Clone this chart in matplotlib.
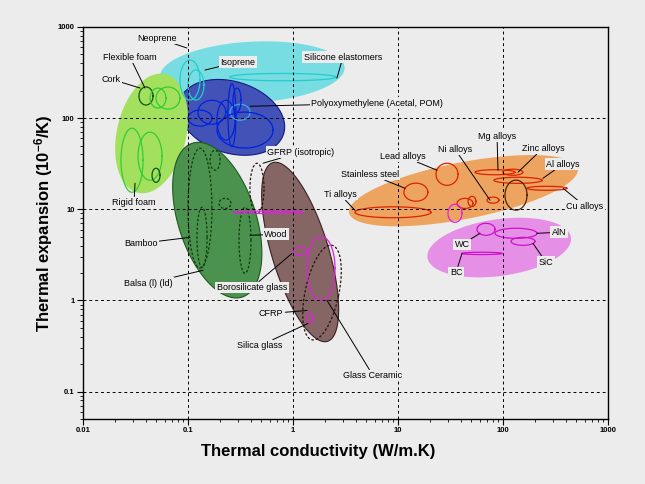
import numpy as np
import matplotlib
matplotlib.use("Agg")
import matplotlib.pyplot as plt

plt.rcParams['font.family'] = ['Liberation Sans', 'DejaVu Sans']
plt.rcParams['mathtext.default'] = 'regular'

# ---- material family envelopes: centre (k W/m.K, alpha 1e-6/K), semi axes (decades), tilt ----
env_names = ['Elastomers', 'Polymers', 'Foams', 'Natural', 'Composites/glass', 'Metals', 'Ceramics']
env_k = [0.41, 0.26, 0.045, 0.19, 1.17, 42, 92]
env_alpha = [320, 102, 68, 7.6, 3.4, 16, 3.8]
env_a = [0.88, 0.52, 0.58, 0.77, 0.89, 1.11, 0.69]
env_b = [0.29, 0.34, 0.33, 0.37, 0.27, 0.27, 0.27]
env_angle = [3, -18, 77, 108, 107, 11, 8]
env_fill = ['#78dde3', '#4352b6', '#a2e05e', '#4a924d', '#866565', '#eda461', '#e68fe6']
env_edge = ['none', '#101a80', 'none', '#1f5a22', '#3a2222', 'none', 'none']

# ---- individual materials (outlines inside the envelopes) ----
mat_k = [0.1045, 0.119, 0.80,
         0.0398, 0.0518, 0.0645, 0.0293, 0.0435, 0.0496,
         0.262, 0.230, 0.169, 0.313, 0.130, 0.349, 0.293,
         0.130, 0.136, 0.349, 0.181, 0.225,
         0.454, 1.89, 1.85, 1.17, 1.45, 0.578,
         8.96, 14.8, 29.3, 43.5, 50.7, 80.3, 83.9, 124, 139, 262, 133, 34.9,
         68.9, 133, 155, 63]
mat_alpha = [262, 231, 282,
             175, 166, 166, 34.5, 38.2, 23.6,
             108, 95, 116, 116, 100, 74, 158,
             10.3, 4.92, 4.56, 34.5, 11.6,
             17, 1.22, 2.25, 3.45, 0.634, 9.27,
             9.27, 15.4, 24.2, 11.6, 12.2, 12.6, 25.5, 25.5, 20.8, 17, 14.3, 9.04,
             6.03, 5.45, 4.45, 3.28]
mat_rx = [0.095, 0.076, 0.505,
          0.067, 0.076, 0.114, 0.105, 0.114, 0.038,
          0.038, 0.086, 0.133, 0.095, 0.114, 0.267, 0.038,
          0.114, 0.048, 0.057, 0.048, 0.057,
          0.067, 0.16, 0.133, 0.067, 0.029, 0.333,
          0.362, 0.114, 0.105, 0.076, 0.038, 0.057, 0.19, 0.095, 0.229, 0.19, 0.105, 0.067,
          0.086, 0.20, 0.114, 0.19]
mat_ry = [0.19, 0.143, 0.035,
          0.086, 0.095, 0.105, 0.305, 0.229, 0.067,
          0.30, 0.19, 0.114, 0.076, 0.076, 0.171, 0.114,
          0.571, 0.286, 0.314, 0.095, 0.048,
          0.238, 0.46, 0.305, 0.038, 0.048, 0.012,
          0.052, 0.086, 0.105, 0.048, 0.048, 0.029, 0.024, 0.029, 0.029, 0.019, 0.143, 0.086,
          0.057, 0.048, 0.038, 0.011]
mat_angle = [0, 0, 0,
             0, 0, 0, 0, 0, 0,
             0, 0, 0, 0, 0, 0, 0,
             0, 0, 0, 0, 0,
             0, -12, 0, 0, 0, 0,
             0, 0, 0, 0, 0, 0, 0, 0, 0, 0, 0, 0,
             0, 0, 0, 0]
mat_color = ['#22cccc', '#22cccc', '#22cccc',
             '#115511', '#33cc33', '#33cc33', '#33cc33', '#33cc33', '#115511',
             '#0022dd', '#0022dd', '#0022dd', '#33aaee', '#0022dd', '#0022dd', '#0022dd',
             '#0d3d0d', '#0d3d0d', '#0d3d0d', '#0d3d0d', '#0d3d0d',
             '#2a1010', '#2a1010', '#dd22dd', '#dd22dd', '#dd22dd', '#dd22dd',
             '#dd2200', '#dd2200', '#dd2200', '#dd2200', '#dd2200', '#dd2200', '#dd2200', '#dd2200',
             '#dd2200', '#dd2200', '#552200', '#dd22dd',
             '#cc11cc', '#cc11cc', '#cc11cc', '#cc11cc']
mat_dashed = [False] * 16 + [True] * 5 + [True, True, False, False, False, False] + [False] * 16

# ---- labels: text position and leader target (k, alpha) ----
lbl_text = ['Neoprene', 'Flexible foam', 'Cork', 'Isoprene', 'Silicone elastomers',
            'Polyoxymethylene (Acetal, POM)', 'GFRP (isotropic)', 'Rigid foam', 'Bamboo',
            'Balsa (l) (ld)', 'Wood', 'Borosilicate glass', 'CFRP', 'Silica glass',
            'Glass Ceramic', 'Lead alloys', 'Ni alloys', 'Mg alloys', 'Zinc alloys',
            'Al alloys', 'Stainless steel', 'Ti alloys', 'Cu alloys', 'AlN', 'WC', 'SiC', 'BC']
lbl_k = [0.0507, 0.0280, 0.0185, 0.299, 2.99, 6.31, 1.19, 0.0306, 0.0357,
         0.0416, 0.689, 0.407, 0.617, 0.485, 5.78, 11.2, 34.9, 87.7, 240,
         373, 5.41, 2.8, 604, 341, 40.7, 257, 35.7]
lbl_alpha = [757, 468, 268, 412, 468, 146, 42.3, 11.9, 4.23,
             1.54, 5.31, 1.39, 0.72, 0.32, 0.15, 38.2, 45.6, 63.4, 46.8,
             31.2, 24.2, 14.6, 10.8, 5.59, 4.12, 2.62, 2.03]
tgt_k = [0.0977, 0.0389, 0.0349, 0.145, 2.62, 0.389, 0.518, 0.0313, 0.1045,
         0.139, 0.389, 0.978, 1.36, 1.39, 2.11, 23.5, 75.2, 89.6, 139,
         240, 11.7, 3.89, 373, 211, 60.4, 193, 40.7]
tgt_alpha = [588, 214, 214, 337, 275, 135, 32, 19.3, 4.92,
             2.14, 5.18, 3.28, 0.776, 0.559, 1.0, 26.8, 12.6, 26.8, 25.5,
             21.9, 17.0, 9.75, 17.0, 5.45, 5.45, 4.23, 3.28]

XLIM = (0.01, 1000)
YLIM = (0.05, 1000)
BG = '#ececec'

fig = plt.figure(figsize=(6.45, 4.84), dpi=100, facecolor=BG)
ax = fig.add_axes([83 / 645, 1 - 419 / 484, 525 / 645, 392 / 484])
ax.set_facecolor(BG)
ax.set_xscale('log')
ax.set_yscale('log')
ax.set_xlim(*XLIM)
ax.set_ylim(*YLIM)

# pixels per decade on each axis, so tilted ellipses look right on screen
bbox = ax.get_position()
px_x = bbox.width * fig.get_figwidth() / np.log10(XLIM[1] / XLIM[0])
px_y = bbox.height * fig.get_figheight() / np.log10(YLIM[1] / YLIM[0])
r = px_y / px_x


def ellipse_pts(k, alpha, rx, ry, ang, n=120):
    t = np.linspace(0, 2 * np.pi, n)
    th = np.radians(ang)
    dx = rx * np.cos(t) * np.cos(th) - ry * np.sin(t) * np.sin(th)
    dy = rx * np.cos(t) * np.sin(th) + ry * np.sin(t) * np.cos(th)
    return 10 ** (np.log10(k) + dx), 10 ** (np.log10(alpha) + dy / r)


for i in range(len(env_names)):
    xs, ys = ellipse_pts(env_k[i], env_alpha[i], env_a[i], env_b[i], env_angle[i])
    ax.fill(xs, ys, fc=env_fill[i], ec=env_edge[i], lw=0.8, zorder=1)

for i in range(len(mat_k)):
    xs, ys = ellipse_pts(mat_k[i], mat_alpha[i], mat_rx[i], mat_ry[i], mat_angle[i])
    ax.plot(xs, ys, color=mat_color[i], lw=0.9,
            ls=(0, (2, 1.5)) if mat_dashed[i] else '-', zorder=2)

ax.grid(True, which='major', color='black', ls=(0, (3, 3)), lw=0.7, zorder=2.5)
ax.set_axisbelow(False)

for i in range(len(lbl_text)):
    ax.annotate(lbl_text[i], xy=(tgt_k[i], tgt_alpha[i]), xytext=(lbl_k[i], lbl_alpha[i]),
                ha='center', va='center', fontsize=6.5, zorder=5,
                bbox=dict(boxstyle='square,pad=0.15', fc=BG, ec='none'),
                arrowprops=dict(arrowstyle='-', color='black', lw=0.7,
                                shrinkA=0, shrinkB=0))

ax.set_xticks([0.01, 0.1, 1, 10, 100, 1000])
ax.set_xticklabels(['0.01', '0.1', '1', '10', '100', '1000'])
ax.set_yticks([0.1, 1, 10, 100, 1000])
ax.set_yticklabels(['0.1', '1', '10', '100', '1000'])
ax.tick_params(which='major', direction='out', length=4, width=0.8, labelsize=5.5, pad=2)
ax.tick_params(which='minor', direction='out', length=2, width=0.6)
for lab in ax.get_xticklabels() + ax.get_yticklabels():
    lab.set_fontweight('bold')
for sp in ax.spines.values():
    sp.set_linewidth(1.0)

ax.set_xlabel('Thermal conductivity (W/m.K)', fontsize=12, fontweight='bold')
ax.set_ylabel('Thermal expansion (10$^{-6}$/K)', fontsize=12, fontweight='bold')
ax.xaxis.set_label_coords(0.448, -0.063)
ax.yaxis.set_label_coords(-0.054, 0.5)

fig.savefig('out.png', dpi=100, facecolor=BG)
